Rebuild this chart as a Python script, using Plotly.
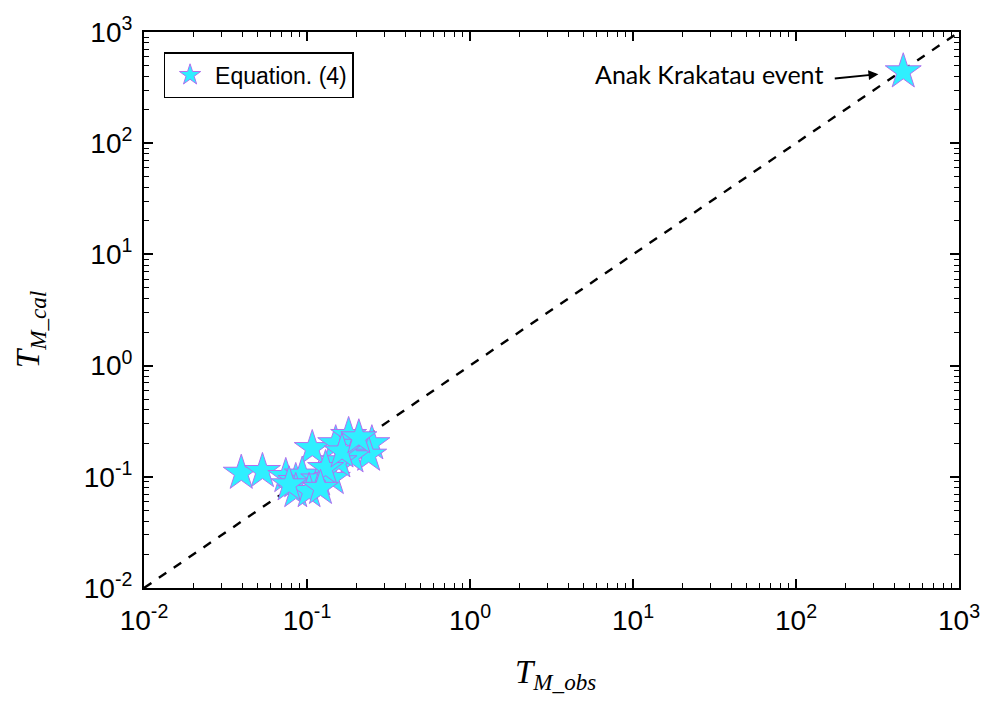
import plotly.graph_objects as go
import numpy as np

# Data
t_obs = [0.0395, 0.0533, 0.0741, 0.0853, 0.1077, 0.0935, 0.118, 0.143, 0.150, 0.180,
         0.203, 0.250, 0.239, 0.189, 0.157, 0.130, 0.0853, 0.103, 0.121, 0.0776, 0.164, 0.208]
t_cal = [0.108, 0.112, 0.101, 0.091, 0.180, 0.104, 0.094, 0.097, 0.199, 0.236,
         0.193, 0.199, 0.157, 0.152, 0.137, 0.119, 0.074, 0.074, 0.079, 0.085, 0.168, 0.225]
krakatau_obs = [455]
krakatau_cal = [440]
line_range = [0.01, 1000]

tick_vals = [0.01, 0.1, 1, 10, 100, 1000]
tick_text = ["10<sup>-2</sup>", "10<sup>-1</sup>", "10<sup>0</sup>",
             "10<sup>1</sup>", "10<sup>2</sup>", "10<sup>3</sup>"]
minor_vals = [m * 10.0 ** k for k in range(-2, 3) for m in range(2, 10)]

star_fill = "#2FEFFF"
star_edge = "#B070F0"

fig = go.Figure()
fig.add_trace(go.Scatter(x=line_range, y=line_range, mode="lines",
                         line=dict(color="black", width=2.4, dash="dash"),
                         showlegend=False, hoverinfo="skip"))
fig.add_trace(go.Scatter(x=t_obs + krakatau_obs, y=t_cal + krakatau_cal, mode="markers",
                         name="Equation. (4)",
                         marker=dict(symbol="star", size=27, color=star_fill,
                                     line=dict(color=star_edge, width=1))))

axis_common = dict(type="log", showgrid=False, zeroline=False, showline=True,
                   linecolor="black", linewidth=2, mirror="allticks",
                   ticks="inside", ticklen=9, tickwidth=1.5, tickcolor="black",
                   tickvals=tick_vals, ticktext=tick_text,
                   tickfont=dict(family="Liberation Sans, Arial", size=28, color="black"),
                   minor=dict(ticks="inside", ticklen=5, tickwidth=1.2,
                              tickcolor="black", tickvals=minor_vals, showgrid=False),
                   range=[-2, 3])

fig.update_xaxes(**axis_common, ticklabelstandoff=6)
fig.update_yaxes(**axis_common, ticklabelstandoff=4)

fig.update_layout(
    width=992, height=704,
    margin=dict(l=144, r=29, t=25, b=116),
    plot_bgcolor="white", paper_bgcolor="white",
    legend=dict(x=0.024, y=0.964, xanchor="left", yanchor="top",
                bordercolor="black", borderwidth=1.5, bgcolor="white",
                font=dict(family="Liberation Sans, Arial", size=23, color="black"),
                itemsizing="trace", itemwidth=40),
    annotations=[
        dict(x=np.log10(455), y=np.log10(440), xref="x", yref="y",
             ax=-70, ay=7, axref="pixel", ayref="pixel",
             text="", showarrow=True, arrowhead=2, arrowsize=1.1, arrowwidth=1.8,
             arrowcolor="black", standoff=25),
        dict(x=np.log10(455), y=np.log10(440), xref="x", yref="y",
             xshift=-78, yshift=-2, xanchor="right", yanchor="middle",
             text="Anak Krakatau event", showarrow=False,
             font=dict(family="Lato, Open Sans", size=25, color="black")),
        dict(x=0.505, y=-0.156, xref="paper", yref="paper", xanchor="center", yanchor="middle",
             text="<i>T</i><sub><i>M_obs</i></sub>", showarrow=False,
             font=dict(family="Liberation Serif, Times New Roman", size=33, color="black")),
        dict(x=-0.139, y=0.465, xref="paper", yref="paper", xanchor="center", yanchor="middle",
             text="<i>T</i><sub><i>M_cal</i></sub>", showarrow=False, textangle=-90,
             font=dict(family="Liberation Serif, Times New Roman", size=33, color="black")),
    ],
)

fig.write_html("out.html")
